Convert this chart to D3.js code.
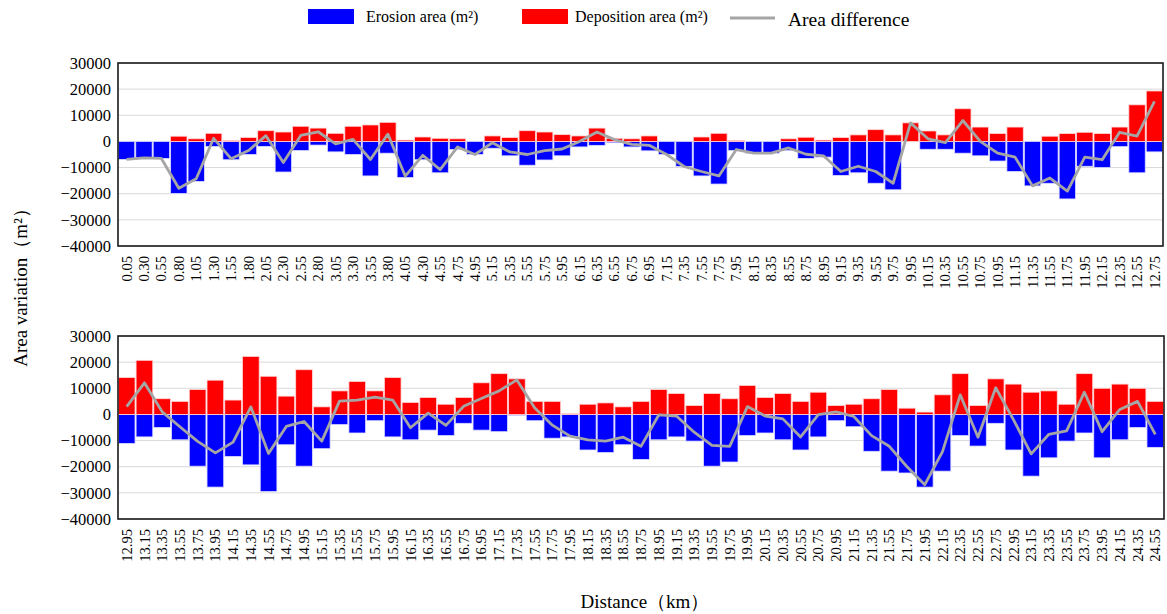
<!DOCTYPE html>
<html>
<head>
<meta charset="utf-8">
<script src="https://cdn.jsdelivr.net/npm/d3@7"></script>
<style>
  html, body { margin: 0; padding: 0; background: #ffffff; }
  svg { display: block; }
  text { font-family: "Liberation Serif", "Times New Roman", "DejaVu Serif", serif; fill: #000; }
</style>
</head>
<body>
<svg id="chart" width="1167" height="614"></svg>
<script>
// Upper reach: distance labels (km) and areas (m²)
const upperDistance = ["0.05","0.30","0.55","0.80","1.05","1.30","1.55","1.80","2.05","2.30",
  "2.55","2.80","3.05","3.30","3.55","3.80","4.05","4.30","4.55","4.75",
  "4.95","5.15","5.35","5.55","5.75","5.95","6.15","6.35","6.55","6.75",
  "6.95","7.15","7.35","7.55","7.75","7.95","8.15","8.35","8.55","8.75",
  "8.95","9.15","9.35","9.55","9.75","9.95","10.15","10.35","10.55","10.75",
  "10.95","11.15","11.35","11.55","11.75","11.95","12.15","12.35","12.55","12.75"];
const upperErosion = [-6900,-6300,-6500,-19900,-15300,-1900,-7000,-5000,-1900,-11700,
  -3500,-1400,-4000,-5000,-13200,-4500,-13800,-7000,-12000,-3100,
  -5000,-2600,-5500,-9100,-7100,-5500,-2100,-1500,-500,-2100,
  -3600,-5000,-9600,-13200,-16300,-3500,-4500,-4500,-3500,-6500,
  -6000,-13000,-12000,-16000,-18500,0,-3000,-3000,-4500,-5500,
  -7500,-11500,-17000,-16000,-22000,-9500,-10000,-2000,-12000,-4000];
const upperDeposition = [0,0,0,2000,1000,3100,400,1500,4100,3600,
  5800,5100,3100,5800,6300,7300,500,1700,1200,1000,
  0,2100,1500,4100,3600,2600,2100,5100,1200,1000,
  2100,0,0,1700,3100,400,0,0,1000,1600,
  500,1500,2500,4500,2500,7100,4000,2500,12500,5500,
  3000,5500,0,2000,3000,3500,3000,5500,14000,19300];

// Lower reach
const lowerDistance = ["12.95","13.15","13.35","13.55","13.75","13.95","14.15","14.35","14.55","14.75",
  "14.95","15.15","15.35","15.55","15.75","15.95","16.15","16.35","16.55","16.75",
  "16.95","17.15","17.35","17.55","17.75","17.95","18.15","18.35","18.55","18.75",
  "18.95","19.15","19.35","19.55","19.75","19.95","20.15","20.35","20.55","20.75",
  "20.95","21.15","21.35","21.55","21.75","21.95","22.15","22.35","22.55","22.75",
  "22.95","23.15","23.35","23.55","23.75","23.95","24.15","24.35","24.55"];
const lowerErosion = [-11100,-8600,-5000,-9700,-19800,-27800,-16100,-19300,-29500,-11600,
  -19800,-13100,-3900,-7100,-2400,-8600,-9700,-6000,-8100,-3400,
  -6000,-6600,-400,-2400,-9100,-8600,-13600,-14600,-11600,-17200,
  -9700,-8600,-10200,-19800,-18200,-8100,-7100,-9700,-13600,-8600,
  -2400,-4700,-14100,-21700,-22400,-27800,-21700,-8100,-12100,-3400,
  -13600,-23600,-16600,-10200,-7100,-16600,-9700,-5000,-12600];
const lowerDeposition = [14100,20700,6000,5000,9500,13100,5500,22200,14600,7000,
  17100,2900,9000,12600,9000,14100,4600,6500,3900,6500,
  12100,15600,13600,5000,5000,300,3900,4400,2900,5000,
  9500,8000,3400,8000,6000,11100,6500,8000,5000,8500,
  3400,3900,6000,9500,2400,900,7500,15600,3400,13600,
  11600,8500,9000,3900,15600,10000,11600,10000,5000];

const yTicks = [30000,20000,10000,0,-10000,-20000,-30000,-40000];

const legendItems = [
  { label: "Erosion area (m²)", color: "#0000ff" },
  { label: "Deposition area (m²)", color: "#ff0000" }
];
const lineLabel = "Area difference";
const yTitle = "Area variation（m²）";
const xTitle = "Distance（km）";

const COLORS = { erosion: "#0000ff", deposition: "#ff0000", line: "#a5a5a5", grid: "#d9d9d9" };
const SERIF = "'Liberation Serif', 'Times New Roman', 'DejaVu Serif', serif";

const svg = d3.select("#chart");

function drawPanel(labels, erosion, deposition, box) {
  const rows = labels.map((d, i) => ({
    label: d,
    ero: erosion[i],
    dep: deposition[i],
    diff: deposition[i] + erosion[i]
  }));

  const x = d3.scaleBand().domain(labels).range([box.left, box.right])
    .paddingInner(0.06).paddingOuter(0.02);
  const y = d3.scaleLinear().domain([-40000, 30000]).range([box.bottom, box.top]);

  const g = svg.append("g");

  // horizontal grid
  g.append("g").selectAll("line").data(yTicks).join("line")
    .attr("x1", box.left).attr("x2", box.right)
    .attr("y1", d => y(d)).attr("y2", d => y(d))
    .attr("stroke", COLORS.grid).attr("stroke-width", 1);

  // erosion bars (negative)
  g.append("g").selectAll("rect").data(rows).join("rect")
    .attr("x", d => x(d.label))
    .attr("width", x.bandwidth())
    .attr("y", y(0))
    .attr("height", d => y(d.ero) - y(0))
    .attr("fill", COLORS.erosion)
    .attr("stroke", "#dcdcff").attr("stroke-width", 0.8);

  // deposition bars (positive)
  g.append("g").selectAll("rect").data(rows).join("rect")
    .attr("x", d => x(d.label))
    .attr("width", x.bandwidth())
    .attr("y", d => y(d.dep))
    .attr("height", d => y(0) - y(d.dep))
    .attr("fill", COLORS.deposition)
    .attr("stroke", "#ffd6d6").attr("stroke-width", 0.8);

  // net change line
  const line = d3.line()
    .x(d => x(d.label) + x.bandwidth() / 2)
    .y(d => y(d.diff));
  g.append("path").datum(rows)
    .attr("d", line)
    .attr("fill", "none")
    .attr("stroke", COLORS.line)
    .attr("stroke-width", 2.8)
    .attr("stroke-linejoin", "round");

  // frame
  g.append("rect")
    .attr("x", box.left).attr("y", box.top)
    .attr("width", box.right - box.left).attr("height", box.bottom - box.top)
    .attr("fill", "none").attr("stroke", "#1a1a1a").attr("stroke-width", 1.6);

  // y axis labels
  const yAxis = d3.axisLeft(y).tickValues(yTicks).tickSize(0).tickPadding(7)
    .tickFormat(d3.format("d"));
  g.append("g").attr("transform", `translate(${box.left},0)`).call(yAxis)
    .attr("font-family", SERIF)
    .call(s => s.select(".domain").remove())
    .selectAll("text")
    .attr("font-size", 16.5);

  // x axis labels (vertical)
  const xAxis = d3.axisBottom(x).tickSize(0).tickPadding(0);
  const xa = g.append("g").attr("transform", `translate(0,${box.bottom})`).call(xAxis)
    .attr("font-family", SERIF);
  xa.select(".domain").remove();
  xa.selectAll("text")
    .attr("font-size", 14.5)
    .attr("text-anchor", "end")
    .attr("transform", "rotate(-90)")
    .attr("x", -10)
    .attr("y", 0)
    .attr("dy", "0.35em");
}

drawPanel(upperDistance, upperErosion, upperDeposition, { left: 118, right: 1163, top: 63, bottom: 246 });
drawPanel(lowerDistance, lowerErosion, lowerDeposition, { left: 118, right: 1164, top: 336, bottom: 519 });

// legend
const legend = svg.append("g");
const legendX = [308, 522];
const legendTextX = [366, 575];
legendItems.forEach((item, i) => {
  legend.append("rect").attr("x", legendX[i]).attr("y", 9).attr("width", 46).attr("height", 15)
    .attr("fill", item.color);
  legend.append("text").attr("x", legendTextX[i]).attr("y", 22)
    .attr("font-size", 16).text(item.label);
});
legend.append("line").attr("x1", 730).attr("x2", 775).attr("y1", 18).attr("y2", 18)
  .attr("stroke", COLORS.line).attr("stroke-width", 3);
legend.append("text").attr("x", 788).attr("y", 26).attr("font-size", 19.5).text(lineLabel);

// axis titles
svg.append("text")
  .attr("transform", "translate(27,283) rotate(-90)")
  .attr("text-anchor", "middle")
  .attr("font-size", 19)
  .text(yTitle);

svg.append("text")
  .attr("x", 645).attr("y", 608)
  .attr("text-anchor", "middle")
  .attr("font-size", 19)
  .text(xTitle);
</script>
</body>
</html>
